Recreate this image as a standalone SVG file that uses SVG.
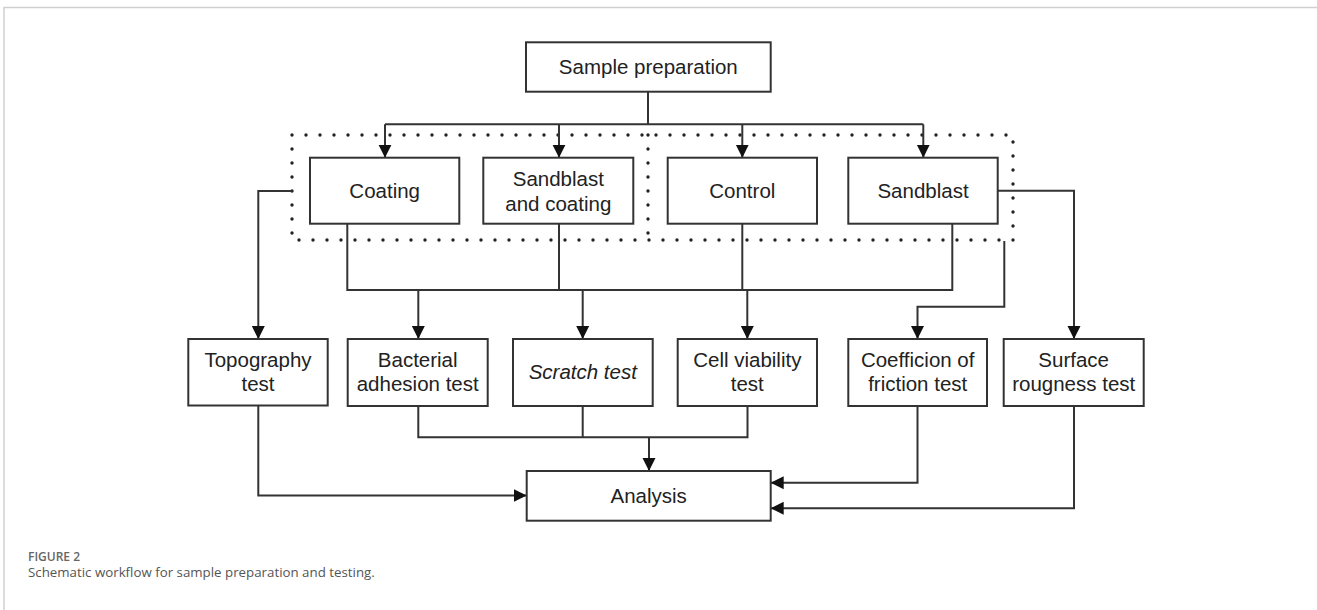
<svg xmlns="http://www.w3.org/2000/svg" width="1317" height="610" viewBox="0 0 1317 610">
<style>
.box{fill:#fff;stroke:#333;stroke-width:2}
.t{font-family:"Liberation Sans",Arial,sans-serif;font-size:20.5px;fill:#222;text-anchor:middle}
.c{fill:none;stroke:#333;stroke-width:2}
.dot{fill:none;stroke:#222;stroke-width:3.4;stroke-linecap:round;stroke-dasharray:0 14}
</style>
<defs>
<marker id="ah" markerUnits="userSpaceOnUse" markerWidth="14" markerHeight="14" viewBox="0 0 14 14" refX="13" refY="7" orient="auto">
<path d="M0,0.5 L13,7 L0,13.5 z" fill="#111"/>
</marker>
</defs>
<rect width="1317" height="610" fill="#fff"/>
<g id="frame" fill="none" stroke="#cfcfcf" stroke-width="1.5">
<path d="M4,610 L4,7.5 L1317,7.5"/>
</g>
<g id="groups">
<rect class="dot" x="292" y="135" width="721" height="105"/>
<line class="dot" x1="648" y1="135" x2="648" y2="240"/>
</g>
<g id="connectors">
<path class="c" d="M648,91.7 V124.3 M385,124.3 H923.3"/>
<path class="c" marker-end="url(#ah)" d="M385,124.3 V157.7"/>
<path class="c" marker-end="url(#ah)" d="M559,124.3 V157.7"/>
<path class="c" marker-end="url(#ah)" d="M742.3,124.3 V157.7"/>
<path class="c" marker-end="url(#ah)" d="M923.3,124.3 V157.7"/>
<path class="c" d="M347.3,223.7 V290 H952.3 V223.7 M559,223.7 V290 M742.3,223.7 V290"/>
<path class="c" marker-end="url(#ah)" d="M418.3,290 V339"/>
<path class="c" marker-end="url(#ah)" d="M582.7,290 V339"/>
<path class="c" marker-end="url(#ah)" d="M747.3,290 V339"/>
<path class="c" marker-end="url(#ah)" d="M292,191 H258.3 V339"/>
<path class="c" marker-end="url(#ah)" d="M997.7,190.7 H1074 V339"/>
<path class="c" marker-end="url(#ah)" d="M1004.3,241 V306.7 H917.5 V339"/>
<path class="c" d="M418.3,406 V437.3 H747.5 V406 M582.7,406 V437.3"/>
<path class="c" marker-end="url(#ah)" d="M649,437.3 V471"/>
<path class="c" marker-end="url(#ah)" d="M258.3,405 V495.5 H526.7"/>
<path class="c" marker-end="url(#ah)" d="M917.5,406 V482.7 H770.7"/>
<path class="c" marker-end="url(#ah)" d="M1074,406 V508.3 H770.7"/>
</g>
<g id="sample-preparation">
<rect class="box" x="526" y="42.3" width="244.7" height="49.4"/>
<text class="t" x="648.3" y="74">Sample preparation</text>
</g>
<g id="coating">
<rect class="box" x="310" y="157.7" width="149.3" height="66"/>
<text class="t" x="384.7" y="198">Coating</text>
</g>
<g id="sandblast-and-coating">
<rect class="box" x="483.3" y="157.7" width="150" height="66"/>
<text class="t" x="558.3" y="185.5">Sandblast</text>
<text class="t" x="558.3" y="210.5">and coating</text>
</g>
<g id="control">
<rect class="box" x="667.7" y="157.7" width="149.3" height="66"/>
<text class="t" x="742.3" y="198">Control</text>
</g>
<g id="sandblast">
<rect class="box" x="848.3" y="157.7" width="149.4" height="66"/>
<text class="t" x="923" y="198">Sandblast</text>
</g>
<g id="topography-test">
<rect class="box" x="188.3" y="339" width="139.4" height="66.5"/>
<text class="t" x="258" y="367">Topography</text>
<text class="t" x="258" y="391">test</text>
</g>
<g id="bacterial-adhesion-test">
<rect class="box" x="347.7" y="339" width="140" height="67"/>
<text class="t" x="417.7" y="367">Bacterial</text>
<text class="t" x="417.7" y="391">adhesion test</text>
</g>
<g id="scratch-test">
<rect class="box" x="513" y="339" width="139.7" height="67"/>
<text class="t" x="582.8" y="378.5" font-style="italic">Scratch test</text>
</g>
<g id="cell-viability-test">
<rect class="box" x="677.7" y="339" width="139.3" height="67"/>
<text class="t" x="747.3" y="367">Cell viability</text>
<text class="t" x="747.3" y="391">test</text>
</g>
<g id="coefficion-of-friction-test">
<rect class="box" x="848.3" y="339" width="138.7" height="67"/>
<text class="t" x="917.7" y="367">Coefficion of</text>
<text class="t" x="917.7" y="391">friction test</text>
</g>
<g id="surface-rougness-test">
<rect class="box" x="1003.7" y="339" width="140" height="67"/>
<text class="t" x="1073.7" y="367">Surface</text>
<text class="t" x="1073.7" y="391">rougness test</text>
</g>
<g id="analysis">
<rect class="box" x="526.7" y="471" width="244" height="49.7"/>
<text class="t" x="648.7" y="502.5">Analysis</text>
</g>
<g id="caption" font-family="'Open Sans','Noto Sans',sans-serif">
<text x="28" y="561" font-size="12" font-weight="600" fill="#666">FIGURE 2</text>
<text x="28" y="576.5" font-size="13.3" fill="#555">Schematic workflow for sample preparation and testing.</text>
</g>
</svg>
